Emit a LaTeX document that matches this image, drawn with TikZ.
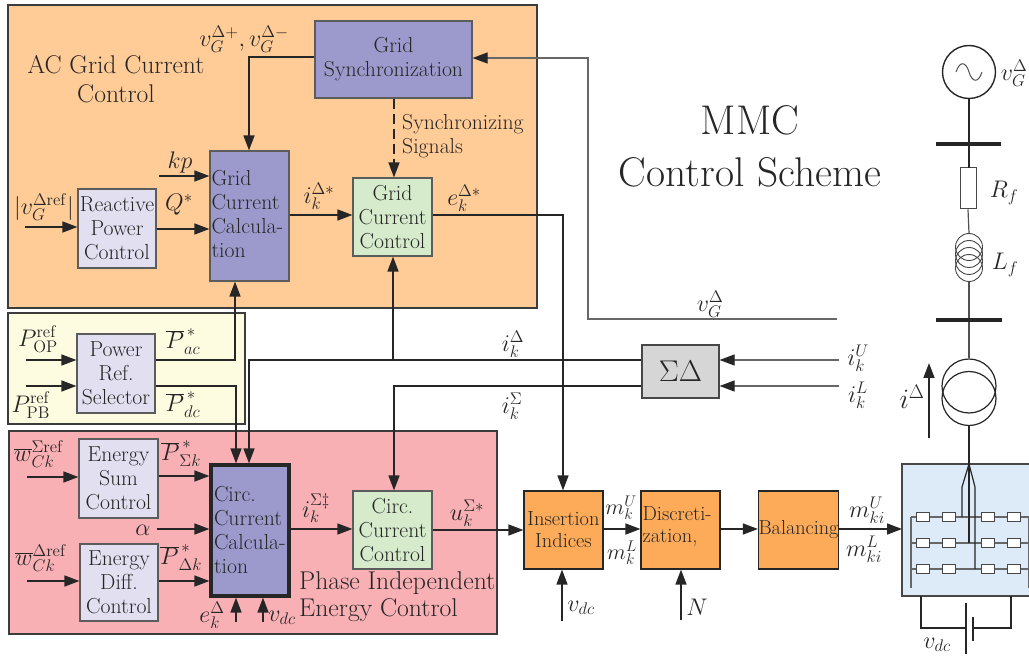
\documentclass[tikz,border=0pt]{standalone}
\usepackage{fix-cm}
\usetikzlibrary{arrows.meta,calc}
\definecolor{ink}{HTML}{262626}
\definecolor{orangebg}{HTML}{FFCB96}
\definecolor{yellowbg}{HTML}{FDFBE0}
\definecolor{pinkbg}{HTML}{F8B0B4}
\definecolor{purp}{HTML}{9C9ACC}
\definecolor{lav}{HTML}{E2DFF1}
\definecolor{gren}{HTML}{D5EBCB}
\definecolor{orng}{HTML}{FDAB59}
\definecolor{gry}{HTML}{D6D6D6}
\definecolor{blu}{HTML}{DDEAF8}
\tikzset{
 every node/.style={text=ink,font=\rmfamily\fontsize{21.7}{24}\selectfont},
 region/.style={draw=ink!90,line width=1.4pt},
 blockbox/.style={draw=ink!75,line width=1.2pt,inner sep=0pt,align=center},
 wire/.style={draw=ink,line width=1.5pt},
 arr/.style={wire,-{Triangle[length=15pt,width=11pt]}},
 greyarr/.style={wire,draw=ink!70,line width=1.2pt,-{Triangle[length=15pt,width=11pt,color=ink]}},
 thin wire/.style={draw=ink!80,line width=1.2pt},
 lbl/.style={inner sep=0pt,font=\rmfamily\fontsize{24}{24}\selectfont},
 title/.style={inner sep=0pt,font=\rmfamily\fontsize{25.6}{29}\selectfont},
 cell/.style={draw=ink!85,fill=white,line width=1.1pt,minimum width=13pt,minimum height=9pt,inner sep=0pt},
}
\newcommand{\blk}[7][]{% opts, name, x1,y1,x2,y2, text
 \node[blockbox,#1,minimum width=#5pt-#3pt,minimum height=#6pt-#4pt] (#2) at ({(#3+#5)/2},{(#4+#6)/2}) {#7};}
\begin{document}
\begin{tikzpicture}[x=1pt,y=-1pt]
\useasboundingbox (0,0) rectangle (1029,660);
% regions
\filldraw[region,fill=orangebg] (8,5) rectangle (537,308);
\filldraw[region,fill=yellowbg] (8,313) rectangle (245,424);
\filldraw[region,fill=pinkbg] (9,431) rectangle (497,634);
% blocks
\blk[fill=purp]{sync}{315}{21}{472}{98}{Grid\\Synchronization}
\blk[fill=purp]{gcalc}{210}{151}{289}{281}{\parbox{76pt}{\raggedright Grid\\Current\\Calcula-\\tion\vspace*{3pt}}}
\blk[fill=gren]{gctrl}{353}{178}{432}{256}{Grid\\Current\\Control}
\blk[fill=lav]{react}{78}{189}{156}{268}{Reactive\\Power\\Control}
\blk[fill=lav]{prs}{77}{334}{155}{413}{Power\\Ref.\\Selector}
\blk[fill=lav]{esum}{79}{439}{158}{518}{Energy\\Sum\\Control}
\blk[fill=lav]{ediff}{80}{544}{158}{621}{Energy\\Diff.\\Control}
\blk[fill=purp,draw=ink,line width=3.2pt]{ccalc}{211}{465}{289}{596}{\parbox{72pt}{\raggedright Circ.\\Current\\Calcula-\\tion}}
\blk[fill=gren]{cctrl}{353}{491}{432}{569}{Circ.\\Current\\Control}
\blk[fill=orng,draw=ink,font=\rmfamily\fontsize{20.4}{22}\selectfont]{ins}{524}{491}{603}{569}{Insertion\\Indices}
\blk[fill=orng,draw=ink,font=\rmfamily\fontsize{20.4}{22}\selectfont]{disc}{641}{491}{720}{569}{\parbox{76pt}{\raggedright Discreti-\\zation,\vspace*{6pt}}}
\blk[fill=orng,draw=ink,font=\rmfamily\fontsize{20.2}{22}\selectfont]{bal}{759}{491}{838}{569}{Balancing}
\blk[fill=gry,draw=ink!85,font=\rmfamily\fontsize{30}{32}\selectfont]{sd}{642}{345}{719}{398}{$\Sigma\Delta$}
% free titles
\node[title,align=center] (t1) at (116,79) {AC Grid Current\\Control};
\node[title,align=left,anchor=west,font=\rmfamily\fontsize{25.7}{27}\selectfont] (t2) at (299,597) {Phase Independent\\Energy Control};
\node[inner sep=0pt,align=left,anchor=west] (t3) at (402,136) {Synchronizing\\Signals};
\node[inner sep=0pt,align=center,font=\rmfamily\fontsize{41.5}{52}\selectfont] (t4) at (750,146) {MMC\\Control Scheme};
% free-end coordinates
\coordinate (vgt) at (588,319);
\coordinate (vge) at (837,319);
% grid wires
\draw[arr] (sync.west |- 0,57) -- (249,57) -- (gcalc.north -| 249,0);
\draw[arr,dash pattern=on 10pt off 5pt,line width=1.3pt] (sync.south -| 394,0) -- (gctrl.north -| 394,0);
\draw[arr] (gcalc.east |- 0,215) -- (gctrl.west |- 0,215);
\draw[arr] (gctrl.east |- 0,215) -- (563,215) -- (ins.north -| 563,0);
\draw[arr] (159,176) -- (gcalc.west |- 0,176);
\draw[arr] (react.east |- 0,229) -- (gcalc.west |- 0,229);
\draw[arr] (25,227) -- (react.west |- 0,227);
\draw[greyarr] (vge) -- (vgt) -- (588,58) -- (sync.east |- 0,58);
% power
\draw[arr] (26,360) -- (prs.west |- 0,360);
\draw[arr] (26,386) -- (prs.west |- 0,386);
\draw[arr] (prs.east |- 0,360) -- (235,360) -- (gcalc.south -| 235,0);
\draw[arr] (prs.east |- 0,386) -- (236,386) -- (ccalc.north -| 236,0);
% sigma delta
\draw[arr] (sd.west |- 0,360) -- (249,360) -- (ccalc.north -| 249,0);
\draw[arr] (393,360) -- (gctrl.south -| 393,0);
\draw[arr] (sd.west |- 0,386) -- (394,386) -- (cctrl.north -| 394,0);
\coordinate (iu) at (839,360);
\coordinate (il) at (839,386);
\draw[greyarr] (iu) -- (sd.east |- iu);
\draw[greyarr] (il) -- (sd.east |- il);
% energy
\draw[arr] (27,477) -- (esum.west |- 0,477);
\draw[arr] (27,581) -- (ediff.west |- 0,581);
\draw[arr] (esum.east |- 0,476) -- (ccalc.west |- 0,476);
\draw[arr] (ediff.east |- 0,581) -- (ccalc.west |- 0,581);
\draw[arr] (157,529) -- (ccalc.west |- 0,529);
\draw[arr] (236,622) -- (ccalc.south -| 236,0);
\draw[arr] (263,622) -- (ccalc.south -| 263,0);
% main chain
\draw[arr] (ccalc.east |- 0,529) -- (cctrl.west |- 0,529);
\draw[arr] (cctrl.east |- 0,530) -- (ins.west |- 0,530);
\draw[arr] (ins.east |- 0,529) -- (disc.west |- 0,529);
\draw[arr] (disc.east |- 0,529) -- (bal.west |- 0,529);
\draw[arr] (562,621) -- (ins.south -| 562,0);
\draw[arr] (681,620) -- (disc.south -| 681,0);
% labels
\node[lbl] (l1) at (244,39) {$v_G^{\Delta+},v_G^{\Delta-}$};
\node[lbl] (l2) at (180,163) {$kp$};
\node[lbl] (l3) at (179,205) {$Q^*$};
\node[lbl] (l4) at (44,207) {$|v_G^{\Delta\mathrm{ref}}|$};
\node[lbl] (l5) at (319,196) {$i_k^{\Delta*}$};
\node[lbl] (l6) at (464,198) {$e_k^{\Delta*}$};
\node[lbl] (l7) at (38,339) {$P_{\mathrm{OP}}^{\mathrm{ref}}$};
\node[lbl] (l8) at (31,405) {$P_{\mathrm{PB}}^{\mathrm{ref}}$};
\node[lbl] (l9) at (183,342) {$\overline{P}_{ac}^{\,*}$};
\node[lbl] (l10) at (183,405) {$\overline{P}_{dc}^{\,*}$};
\node[lbl] (l11) at (513,344) {$i_k^{\Delta}$};
\node[lbl] (l12) at (512,406) {$i_k^{\Sigma}$};
\node[lbl] (l13) at (710,304) {$v_G^{\Delta}$};
\node[lbl] (l14) at (858,358) {$i_k^{U}$};
\node[lbl] (l15) at (858,395) {$i_k^{L}$};
\node[lbl] (l16) at (39,454) {$\overline{w}_{Ck}^{\Sigma\mathrm{ref}}$};
\node[lbl] (l17) at (41,558) {$\overline{w}_{Ck}^{\Delta\mathrm{ref}}$};
\node[lbl] (l18) at (181,454) {$\overline{P}_{\Sigma k}^{\,*}$};
\node[lbl] (l19) at (181,558) {$\overline{P}_{\Delta k}^{\,*}$};
\node[lbl] (l20) at (143,530) {$\alpha$};
\node[lbl] (l21) at (212,615) {$e_k^{\Delta}$};
\node[lbl] (l22) at (282,618) {$v_{dc}$};
\node[lbl] (l23) at (316,508) {$i_k^{\Sigma\ddagger}$};
\node[lbl] (l24) at (467,513) {$u_k^{\Sigma*}$};
\node[lbl,font=\rmfamily\fontsize{22}{22}\selectfont] (l25) at (621,508) {$m_k^{U}$};
\node[lbl,font=\rmfamily\fontsize{22}{22}\selectfont] (l26) at (622,553) {$m_k^{L}$};
\node[lbl] (l27) at (581,608) {$v_{dc}$};
\node[lbl] (l28) at (697,607) {$N$};
\node[lbl] (l29) at (867,510) {$m_{ki}^{U}$};
\node[lbl] (l30) at (864,549) {$m_{ki}^{L}$};
\node[lbl] (l31) at (1014,73) {$v_G^{\Delta}$};
\node[lbl] (l32) at (1004,193) {$R_f$};
\node[lbl] (l33) at (1005,265) {$L_f$};
\node[lbl,font=\rmfamily\fontsize{28}{28}\selectfont] (l34) at (912,397) {$i^{\Delta}$};
\node[lbl] (l35) at (937,645) {$v_{dc}$};
% grid side
\node[draw=ink,line width=1.4pt,circle,minimum size=53pt,inner sep=0pt] (src) at (969,72) {};
\draw[draw=ink!80,line width=1pt] (956,72) .. controls (960,60) and (966,62) .. (969,72) .. controls (972,82) and (978,84) .. (982,72);
\coordinate (bus1l) at (936,144); \coordinate (bus1r) at (1001,144);
\coordinate (bus2l) at (936,320); \coordinate (bus2r) at (1002,320);
\node[draw=ink!85,fill=white,line width=1pt,minimum width=16pt,minimum height=41pt,inner sep=0pt] (rf) at (968,188.5) {};
\draw[wire] (src.south) -- (969,168);
\foreach \cy [count=\i] in {247,254,261,268} \node[draw=ink!85,line width=0.9pt,circle,minimum size=27pt,inner sep=0pt] (lf\i) at (969,\cy) {};
\draw[thin wire] (rf.south) -- (lf1.north);
\node[draw=ink,line width=1.2pt,circle,minimum size=54pt,inner sep=0pt] (tr1) at (969,386) {};
\node[draw=ink,line width=1.2pt,circle,minimum size=54pt,inner sep=0pt] (tr2) at (969,398.5) {};
\draw[thin wire] (lf4.south) -- (tr1.north);
\draw[line width=3.6pt,draw=ink] (bus1l) -- (bus1r);
\draw[line width=3.6pt,draw=ink] (bus2l) -- (bus2r);
\coordinate (ia) at (929,438); \coordinate (ib) at (929,363);
\draw[arr] (ia) -- (ib);
% arm box
\path[clip] (0,0) rectangle (1029,660);
\filldraw[draw=ink!85,fill=blu,line width=1.4pt] (902,464) rectangle (1035,596);
\node[inner sep=0pt,minimum size=0pt] (armtop) at (969,464) {};
\draw[wire] (tr2.south) -- (armtop);
\draw[arr] (bal.east |- 0,529) -- (902,529);
\foreach \ry in {517,543,569}{
 \draw[draw=ink!70,line width=1.1pt] (911,\ry) -- (1029,\ry);
 \foreach \cx in {923,949,988,1014} \node[cell] at (\cx,\ry) {};
}
\draw[draw=ink!70,line width=1.1pt] (911,517) -- (911,588);
\draw[draw=ink!70,line width=1.1pt] (1029,517) -- (1029,588);
\draw[draw=ink,line width=1.2pt] (armtop) -- (969,543);
\draw[draw=ink,line width=1.2pt] (armtop) -- (962,487) -- (962,517);
\draw[draw=ink,line width=1.2pt] (armtop) -- (975,487) -- (975,569);
\coordinate (dc1) at (921,596); \coordinate (dc2) at (1011,596);
\draw[draw=ink,line width=1.1pt] (dc1) -- (921,628) -- (966,628);
\draw[draw=ink,line width=1.1pt] (dc2) -- (1011,628) -- (973,628);
\draw[draw=ink,line width=1.3pt] (966,603) -- (966,654);
\draw[draw=ink,line width=1.3pt] (973,617) -- (973,641);
\end{tikzpicture}
\end{document}
